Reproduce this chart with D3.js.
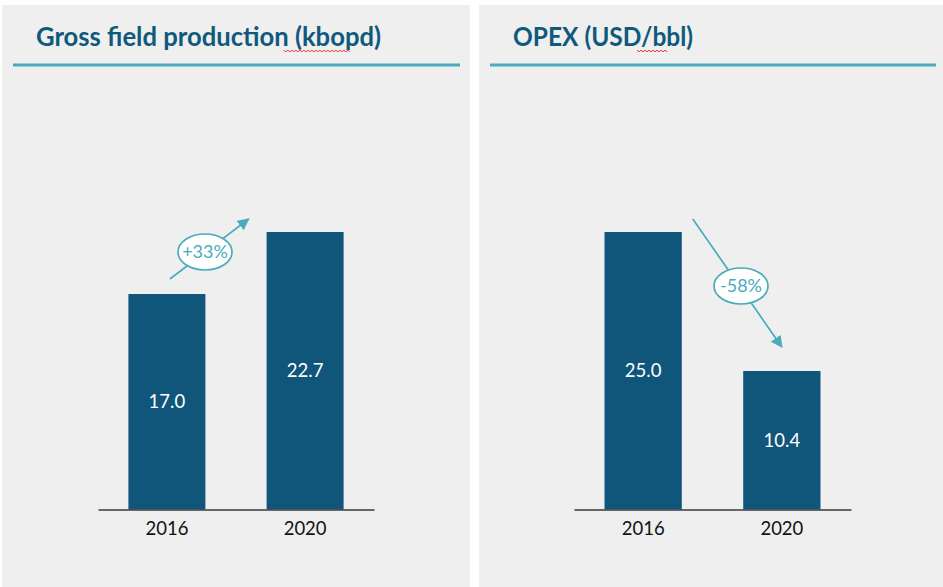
<!DOCTYPE html>
<html>
<head>
<meta charset="utf-8">
<script src="https://cdn.jsdelivr.net/npm/d3@7"></script>
<style>
  html, body { margin: 0; padding: 0; background: #fff; }
  svg { display: block; }
  text { font-family: Lato, "Open Sans", sans-serif; }
</style>
</head>
<body>
<div id="chart"></div>
<script>
// ── data ─────────────────────────────────────────────────────────
const years = ['2016', '2020']
const production = [17.0, 22.7]
const opex = [25.0, 10.4]
const prodChange = '+33%'
const opexChange = '-58%'

const W = 943, H = 587
const BAR = '#10557a'
const TEAL = '#4aabbd'
const TITLE = '#0f5a7c'

const svg = d3.select('#chart').append('svg')
  .attr('width', W).attr('height', H)

svg.append('rect').attr('width', W).attr('height', H).attr('fill', '#fff')

svg.append('defs').append('marker')
  .attr('id', 'arrow').attr('viewBox', '0 0 10 10')
  .attr('refX', 9).attr('refY', 5)
  .attr('markerWidth', 7).attr('markerHeight', 7)
  .attr('markerUnits', 'strokeWidth')
  .attr('orient', 'auto')
  .append('path').attr('d', 'M0,0 L10,5 L0,10 z').attr('fill', TEAL)

function panel(cfg) {
  const { x0, x1, title, titleX, titleW, squiggle, values, domain, axisX, change, arrow } = cfg

  svg.append('rect')
    .attr('x', x0).attr('y', 5).attr('width', x1 - x0).attr('height', H - 5)
    .attr('fill', '#efefef')

  // ── title ─────────────────────────────────────────────────────
  const t = svg.append('text')
    .attr('x', titleX).attr('y', 46)
    .attr('fill', TITLE).style('font-weight', 700).style('font-size', '27.5px')
    .text(title)
  const tw = t.node().getComputedTextLength()
  const sc = tw > titleW ? titleW / tw : 1
  if (sc < 1) t.attr('textLength', titleW).attr('lengthAdjust', 'spacingAndGlyphs')

  // spell-check squiggle under a word
  const k = title.indexOf(squiggle)
  const sStart = titleX + t.node().getSubStringLength(0, k) * sc
  const sLen = t.node().getSubStringLength(k, squiggle.length) * sc
  const pts = d3.range(0, Math.floor(sLen / 2) + 1).map(i => [sStart + i * 2, 51 + (i % 2 ? 1 : -1)])
  svg.append('path').attr('d', d3.line()(pts)).attr('fill', 'none')
    .attr('stroke', '#e8322a').attr('stroke-width', 1)

  svg.append('line')
    .attr('x1', cfg.lineX[0]).attr('x2', cfg.lineX[1]).attr('y1', 65).attr('y2', 65)
    .attr('stroke', TEAL).attr('stroke-width', 3)

  // ── scales ────────────────────────────────────────────────────
  const x = d3.scaleBand().domain(years).range(axisX).paddingInner(0.443).paddingOuter(0.22)
  const baseY = 509.5
  const y = d3.scaleLinear().domain(domain).range([baseY, 232])

  const g = svg.append('g')
  g.selectAll('rect.bar').data(values).join('rect').attr('class', 'bar')
    .attr('x', (d, i) => x(years[i])).attr('width', x.bandwidth())
    .attr('y', d => y(d)).attr('height', d => baseY - y(d))
    .attr('fill', BAR)

  g.selectAll('text.val').data(values).join('text').attr('class', 'val')
    .attr('x', (d, i) => x(years[i]) + x.bandwidth() / 2)
    .attr('y', d => (y(d) + baseY) / 2).attr('dy', '0.36em')
    .attr('text-anchor', 'middle').attr('fill', '#fff').style('font-size', '18.5px')
    .text(d => d.toFixed(1))

  const ax = g.append('g').attr('transform', `translate(0,${baseY})`)
    .call(d3.axisBottom(x).tickSize(0).tickPadding(12))
  ax.select('.domain').attr('stroke', '#3a3a3a').attr('stroke-width', 1.5)
  ax.selectAll('text').style('font-size', '18.5px').style('font-family', 'Lato, sans-serif').attr('fill', '#111')

  // ── change arrow ──────────────────────────────────────────────
  const a = arrow(x, y)
  g.append('line')
    .attr('x1', a[0][0]).attr('y1', a[0][1]).attr('x2', a[1][0]).attr('y2', a[1][1])
    .attr('stroke', TEAL).attr('stroke-width', 1.7).attr('marker-end', 'url(#arrow)')
  g.append('ellipse')
    .attr('cx', a[2][0]).attr('cy', a[2][1]).attr('rx', 27).attr('ry', 18)
    .attr('fill', '#fff').attr('stroke', TEAL).attr('stroke-width', 1.7)
  g.append('text')
    .attr('x', a[2][0]).attr('y', a[2][1]).attr('dy', '0.36em')
    .attr('text-anchor', 'middle').attr('fill', TEAL).style('font-size', '18px')
    .text(change)
}

panel({
  x0: 2, x1: 470,
  title: 'Gross field production (kbopd)', titleX: 36, titleW: 345, squiggle: 'kbopd',
  lineX: [13, 460],
  values: production, domain: [-2.8, 22.7], axisX: [98, 374], change: prodChange,
  arrow: (x, y) => {
    const s = [x(years[0]) + x.bandwidth() / 2 + 3, y(production[0]) - 15]
    const e = [x(years[1]) - 18, y(production[1]) - 13]
    return [s, e, [205, 252]]
  }
})

panel({
  x0: 479, x1: 943,
  title: 'OPEX (USD/bbl)', titleX: 513, titleW: 180, squiggle: 'bbl',
  lineX: [490, 936],
  values: opex, domain: [-4.15, 25], axisX: [574, 851], change: opexChange,
  arrow: (x, y) => {
    const s = [x(years[0]) + x.bandwidth() + 11, y(opex[0]) - 13]
    const e = [x(years[1]) + x.bandwidth() / 2, y(opex[1]) - 24]
    return [s, e, [741, 286]]
  }
})
</script>
</body>
</html>
